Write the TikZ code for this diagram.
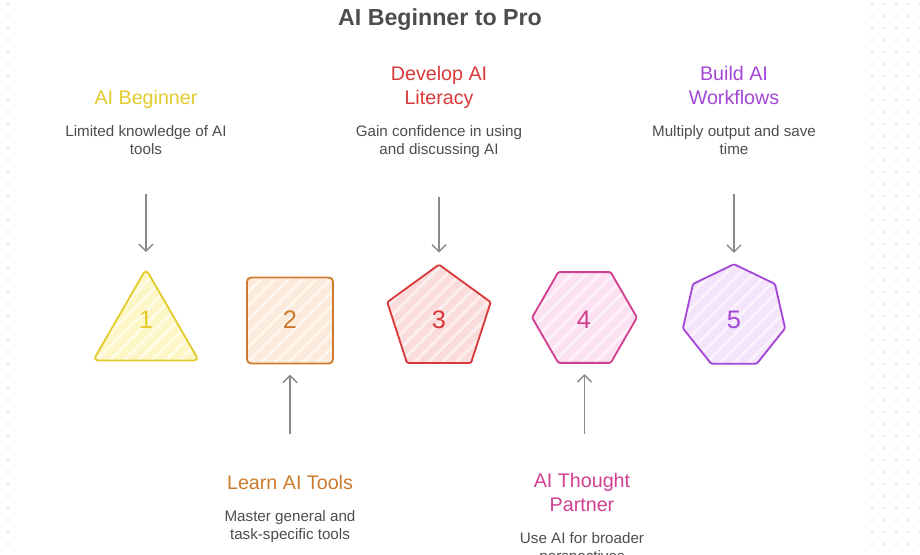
\documentclass[tikz,border=0pt]{standalone}
\usepackage{fontspec}
\setmainfont{Liberation Sans}
\usetikzlibrary{arrows.meta, positioning, shapes.geometric, patterns.meta}

\definecolor{txtgray}{HTML}{4D4D4D}
\definecolor{arrowgray}{HTML}{8A8A8A}
\definecolor{dotgray}{HTML}{E2E2E2}
\definecolor{yelline}{HTML}{E3CB2C}
\definecolor{yelfill}{HTML}{FDF7C8}
\definecolor{orgline}{HTML}{CC7A2C}
\definecolor{orgfill}{HTML}{FCEBDB}
\definecolor{redline}{HTML}{D9393B}
\definecolor{redfill}{HTML}{FADCDC}
\definecolor{pnkline}{HTML}{D13F91}
\definecolor{pnkfill}{HTML}{FBE1F2}
\definecolor{purline}{HTML}{A446D6}
\definecolor{purfill}{HTML}{F3E3FB}

\tikzset{
    stage/.style={fill=#1fill, inner sep=0pt, outer sep=0pt,
        postaction={pattern={Lines[angle=45, distance=7pt, line width=2pt]}, pattern color=#1fill!45!white},
        postaction={draw=#1line, line width=1.3pt}},
    num/.style={text=#1line, font=\fontsize{18}{20}\selectfont},
    title/.style={text=#1line, font=\fontsize{14}{17}\selectfont, align=center, execute at end node=\strut},
    desc/.style={text=txtgray, font=\fontsize{10.8}{12.8}\selectfont, align=center},
    arrow/.style={-{Straight Barb[length=5pt, width=10pt]}, arrowgray, line width=1pt}
}

\begin{document}
\begin{tikzpicture}[x=0.025cm, y=-0.025cm, node distance=0.1cm]

    \useasboundingbox (0,0) rectangle (920,554);

    % dotted backdrop at the edges
    \foreach \x in {8,872,884,896,908,920}
        \foreach \y in {4,16,...,556}
            \fill[dotgray] (\x,\y) circle (0.9pt);

    \node[text=txtgray, font=\bfseries\fontsize{16.5}{18}\selectfont] (head) at (440,20) {AI Beginner to Pro};

    % shapes
    \node[stage=yel, regular polygon, regular polygon sides=3, minimum size=3.05cm, rounded corners=3.5pt] (s1) at (146,330) {};
    \node[stage=org, rectangle, minimum size=2.15cm, rounded corners=3pt] (s2) at (290,320.5) {};
    \node[stage=red, regular polygon, regular polygon sides=5, minimum size=2.72cm, rounded corners=1pt] (s3) at (439,319) {};
    \node[stage=pnk, regular polygon, regular polygon sides=6, minimum size=2.62cm, rounded corners=1pt] (s4) at (584.5,317.5) {};
    \node[stage=pur, regular polygon, regular polygon sides=7, minimum size=2.62cm, rounded corners=1pt] (s5) at (734,316.6) {};

    \node[num=yel] (n1) at (146,320) {1};
    \node[num=org] (n2) at (290,320) {2};
    \node[num=red] (n3) at (439,320) {3};
    \node[num=pnk] (n4) at (584,320) {4};
    \node[num=pur] (n5) at (734,320) {5};

    % upper texts
    \node[desc, anchor=north] (d1) at (146,121) {Limited knowledge of AI\\tools};
    \node[title=yel, above=of d1] (t1) {AI Beginner};
    \node[desc, anchor=north] (d3) at (439,121) {Gain confidence in using\\and discussing AI};
    \node[title=red, above=of d3] (t3) {Develop AI\\Literacy};
    \node[desc, anchor=north] (d5) at (734,121) {Multiply output and save\\time};
    \node[title=pur, above=of d5] (t5) {Build AI\\Workflows};

    % lower texts
    \node[title=org, anchor=north] (t2) at (290,468) {Learn AI Tools};
    \node[desc, below=of t2] (d2) {Master general and\\task-specific tools};
    \node[title=pnk, anchor=north] (t4) at (582,468) {AI Thought\\Partner};
    \node[desc, below=of t4] (d4) {Use AI for broader\\perspectives};

    % arrows
    \draw[arrow, shorten >=0.42cm] ([yshift=-0.85cm]d1.south) -- (s1.north);
    \draw[arrow, shorten >=0.3cm] ([yshift=-0.85cm]d3.south) -- (s3.north);
    \draw[arrow, shorten >=0.28cm] ([yshift=-0.85cm]d5.south) -- (s5.north);
    \draw[arrow, shorten >=0.28cm] ([yshift=0.85cm]t2.north) -- (s2.south);
    \draw[arrow, shorten >=0.28cm] ([yshift=0.85cm]t4.north -| s4.south) -- (s4.south);

\end{tikzpicture}
\end{document}
